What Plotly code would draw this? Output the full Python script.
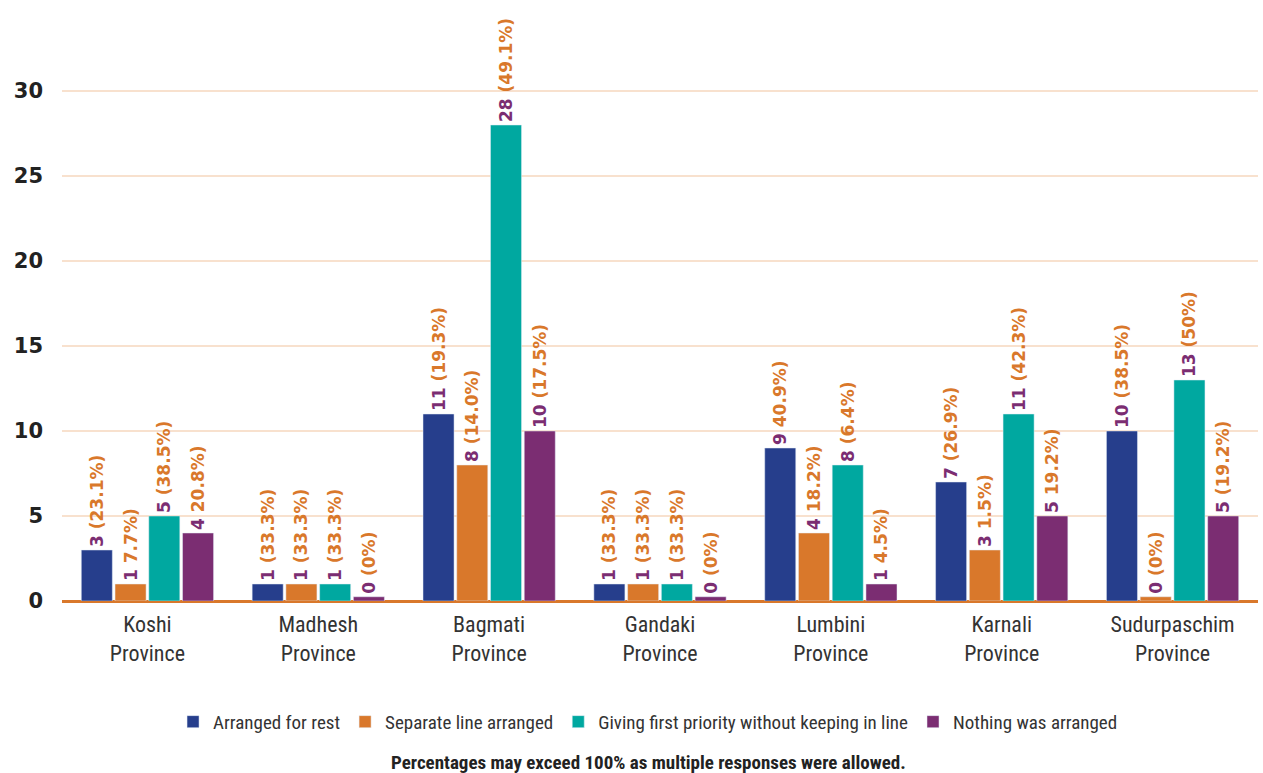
import plotly.graph_objects as go

provinces = ["Koshi<br>Province", "Madhesh<br>Province", "Bagmati<br>Province", "Gandaki<br>Province",
             "Lumbini<br>Province", "Karnali<br>Province", "Sudurpaschim<br>Province"]

series_names = ["Arranged for rest", "Separate line arranged",
                "Giving first priority without keeping in line", "Nothing was arranged"]

arranged_rest = [3, 1, 11, 1, 9, 7, 10]
separate_line = [1, 1, 8, 1, 4, 3, 0]
first_priority = [5, 1, 28, 1, 8, 11, 13]
nothing_arranged = [4, 0, 10, 0, 1, 5, 5]

pct_arranged_rest = ["(23.1%)", "(33.3%)", "(19.3%)", "(33.3%)", "40.9%)", "(26.9%)", "(38.5%)"]
pct_separate_line = ["7.7%)", "(33.3%)", "(14.0%)", "(33.3%)", "18.2%)", "1.5%)", "(0%)"]
pct_first_priority = ["(38.5%)", "(33.3%)", "(49.1%)", "(33.3%)", "(6.4%)", "(42.3%)", "(50%)"]
pct_nothing = ["20.8%)", "(0%)", "(17.5%)", "(0%)", "4.5%)", "19.2%)", "(19.2%)"]

y_ticks = [0, 5, 10, 15, 20, 25, 30]

colors = ["#263E8C", "#D9782B", "#00A8A0", "#7B2D72"]
NUM_COLOR = "#7B2D72"
PCT_COLOR = "#D9782B"
COND = "Roboto Condensed, Liberation Sans Narrow, Roboto, sans-serif"

all_values = [arranged_rest, separate_line, first_priority, nothing_arranged]
all_pcts = [pct_arranged_rest, pct_separate_line, pct_first_priority, pct_nothing]

fig = go.Figure()
for name, vals, pcts, col in zip(series_names, all_values, all_pcts, colors):
    heights = [v if v > 0 else 0.25 for v in vals]  # zero bars shown as thin stub
    texts = [f"<span style='color:{NUM_COLOR}'>{v}</span> <span style='color:{PCT_COLOR}'>{p}</span>"
             for v, p in zip(vals, pcts)]
    fig.add_trace(go.Bar(
        x=provinces, y=heights, name=name, marker_color=col,
        text=texts, textposition="outside", textangle=-90,
        textfont=dict(family="DejaVu Sans", size=17, weight="bold"),
        cliponaxis=False, constraintext="none",
        customdata=vals, hovertemplate="%{customdata}<extra>" + name + "</extra>",
    ))

fig.update_layout(
    width=1263, height=773,
    margin=dict(l=62, r=5, t=6, b=172),
    paper_bgcolor="white", plot_bgcolor="white",
    barmode="group", bargap=0.21, bargroupgap=0.08,
    font=dict(family=COND, color="#333333"),
    xaxis=dict(tickfont=dict(family=COND, size=22, color="#333333"),
               showline=False, showgrid=False, ticks="", ticklabelstandoff=8),
    yaxis=dict(range=[0, 35], tickvals=y_ticks, showgrid=True, gridcolor="#F8E1CE", gridwidth=2,
               zeroline=True, zerolinecolor="#D9782B", zerolinewidth=3,
               tickfont=dict(family="DejaVu Sans", size=21, color="#222222", weight="bold"),
               ticks="", ticklabelstandoff=18),
    legend=dict(orientation="h", x=0.49, xanchor="center", y=-0.203, yanchor="middle",
                font=dict(family=COND, size=19, color="#333333"),
                itemwidth=30, traceorder="normal"),
    annotations=[dict(text="<b>Percentages may exceed 100% as multiple responses were allowed.</b>",
                      xref="paper", yref="paper", x=0.49, y=-0.271, xanchor="center", yanchor="middle",
                      showarrow=False,
                      font=dict(family=COND, size=19, color="#222222"))],
)

fig.write_html("out.html")
